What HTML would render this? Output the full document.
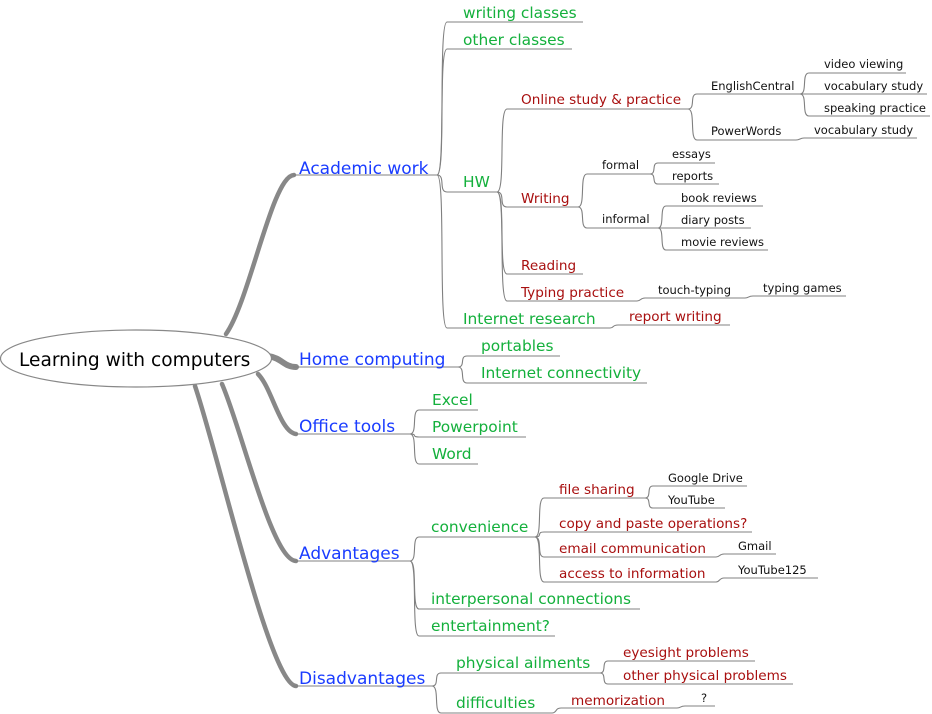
<!DOCTYPE html>
<html><head><meta charset="utf-8"><style>
html,body{margin:0;padding:0;background:#fff;width:932px;height:714px;overflow:hidden}
svg{display:block}
text{font-family:"DejaVu Sans","Liberation Sans",sans-serif}
.b{fill:#1a3cff;font-size:17px}
.g{fill:#14b03c;font-size:15.4px}
.r{fill:#a80f0f;font-size:13.6px}
.k{fill:#111;font-size:11.5px}
.l{fill:none;stroke:#808080;stroke-width:1.1}
.t{fill:none;stroke:#888;stroke-width:4.5;stroke-linecap:round}
</style></head><body>
<svg width="932" height="714" viewBox="0 0 932 714" xmlns="http://www.w3.org/2000/svg">
<path class="t" d="M226 334 C250 300 272 176 294 175"/>
<path class="t" d="M268 356 C282 358 284 367 296 367" style="stroke-width:6"/>
<path class="t" d="M258 374 C272 388 280 432 296 434"/>
<path class="t" d="M222 384 C242 430 272 560 296 561"/>
<path class="t" d="M195 386 C220 460 270 684 296 686"/>
<ellipse cx="136" cy="358.5" rx="135.5" ry="28.5" fill="#fff" stroke="#888" stroke-width="1.2"/>
<text x="19" y="366" style="font-size:18.6px;fill:#000">Learning with computers</text>

<path class="l" d="M293 175 L437 175"/>
<path class="l" d="M293 367 L458 367"/>
<path class="l" d="M293 434 L410 434"/>
<path class="l" d="M293 561 L410 561"/>
<path class="l" d="M293 686 L432 686"/>
<text class="b" x="299" y="174" >Academic work</text>
<text class="b" x="299" y="365">Home computing</text>
<text class="b" x="299" y="432">Office tools</text>
<text class="b" x="299" y="559">Advantages</text>
<text class="b" x="299" y="684">Disadvantages</text>

<path class="l" d="M437 175 C446 175 438 22 447 22 L583 22"/>
<path class="l" d="M437 175 C446 175 438 49 447 49 L572 49"/>
<path class="l" d="M437 175 C446 175 438 192 447 192 L497 192"/>
<path class="l" d="M437 175 C446 175 438 328 447 328 L610 328"/>
<text class="g" x="463" y="18">writing classes</text>
<text class="g" x="463" y="45">other classes</text>
<text class="g" x="463" y="187">HW</text>
<text class="g" x="463" y="324">Internet research</text>
<path class="l" d="M610 328 C614 328 612 325 618 325 L730 325"/>
<text class="r" x="629" y="321">report writing</text>

<path class="l" d="M497 192 C506 192 498 109 507 109 L688 109"/>
<path class="l" d="M497 192 C506 192 498 207 507 207 L578 207"/>
<path class="l" d="M497 192 C506 192 498 274 507 274 L583 274"/>
<path class="l" d="M497 192 C506 192 498 301 507 301 L637 301"/>
<text class="r" x="521" y="104">Online study &amp; practice</text>
<text class="r" x="521" y="203">Writing</text>
<text class="r" x="521" y="270">Reading</text>
<text class="r" x="521" y="297">Typing practice</text>

<path class="l" d="M688 109 C696 109 689 94 697 94 L800 94"/>
<path class="l" d="M688 109 C696 109 689 140 697 140 L796 140 C800 140 800 138 804 138 L917 138"/>
<text class="k" x="711" y="90">EnglishCentral</text>
<text class="k" x="711" y="135">PowerWords</text>
<text class="k" x="814" y="134">vocabulary study</text>
<path class="l" d="M800 94 C808 94 801 73 809 73 L906 73"/>
<path class="l" d="M800 94 L927 94"/>
<path class="l" d="M800 94 C808 94 801 116 809 116 L930 116"/>
<text class="k" x="824" y="68">video viewing</text>
<text class="k" x="824" y="90">vocabulary study</text>
<text class="k" x="824" y="112">speaking practice</text>

<path class="l" d="M578 207 C586 207 579 174 587 174 L650 174"/>
<path class="l" d="M578 207 C586 207 579 228 587 228 L658 228"/>
<text class="k" x="602" y="169">formal</text>
<text class="k" x="602" y="223">informal</text>
<path class="l" d="M650 174 C657 174 651 163 658 163 L715 163"/>
<path class="l" d="M650 174 C657 174 651 184 658 184 L719 184"/>
<text class="k" x="672" y="158">essays</text>
<text class="k" x="672" y="180">reports</text>
<path class="l" d="M658 228 C665 228 659 206 666 206 L763 206"/>
<path class="l" d="M658 228 L751 228"/>
<path class="l" d="M658 228 C665 228 659 250 666 250 L768 250"/>
<text class="k" x="681" y="202">book reviews</text>
<text class="k" x="681" y="224">diary posts</text>
<text class="k" x="681" y="246">movie reviews</text>

<path class="l" d="M637 301 C641 301 640 298 645 298 L745 298 C749 298 748 296 753 296 L846 296"/>
<text class="k" x="658" y="294">touch-typing</text>
<text class="k" x="763" y="292">typing games</text>

<path class="l" d="M458 367 C466 367 459 356 467 356 L560 356"/>
<path class="l" d="M458 367 C466 367 459 383 467 383 L647 383"/>
<text class="g" x="481" y="351">portables</text>
<text class="g" x="481" y="378">Internet connectivity</text>

<path class="l" d="M410 434 C418 434 411 410 419 410 L478 410"/>
<path class="l" d="M410 434 C418 434 411 437 419 437 L526 437"/>
<path class="l" d="M410 434 C418 434 411 464 419 464 L478 464"/>
<text class="g" x="432" y="405">Excel</text>
<text class="g" x="432" y="432">Powerpoint</text>
<text class="g" x="432" y="459">Word</text>

<path class="l" d="M410 561 C418 561 411 537 419 537 L535 537"/>
<path class="l" d="M410 561 C418 561 411 609 419 609 L640 609"/>
<path class="l" d="M410 561 C418 561 411 636 419 636 L555 636"/>
<text class="g" x="431" y="532">convenience</text>
<text class="g" x="431" y="604">interpersonal connections</text>
<text class="g" x="431" y="631">entertainment?</text>
<path class="l" d="M535 537 C543 537 536 498 544 498 L645 498"/>
<path class="l" d="M535 537 C543 537 536 532 544 532 L752 532"/>
<path class="l" d="M535 537 C543 537 536 557 544 557 L716 557"/>
<path class="l" d="M535 537 C543 537 536 582 544 582 L716 582"/>
<text class="r" x="559" y="494">file sharing</text>
<text class="r" x="559" y="528">copy and paste operations?</text>
<text class="r" x="559" y="553">email communication</text>
<text class="r" x="559" y="578">access to information</text>
<path class="l" d="M645 498 C652 498 646 486 653 486 L747 486"/>
<path class="l" d="M645 498 C652 498 646 508 653 508 L725 508"/>
<text class="k" x="668" y="482">Google Drive</text>
<text class="k" x="668" y="504">YouTube</text>
<path class="l" d="M716 557 C720 557 719 554 724 554 L776 554"/>
<path class="l" d="M716 582 C720 582 719 578 724 578 L818 578"/>
<text class="k" x="738" y="550">Gmail</text>
<text class="k" x="738" y="574">YouTube125</text>

<path class="l" d="M432 686 C440 686 433 673 441 673 L600 673"/>
<path class="l" d="M432 686 C440 686 433 713 441 713 L552 713"/>
<text class="g" x="456" y="668">physical ailments</text>
<text class="g" x="456" y="708">difficulties</text>
<path class="l" d="M600 673 C607 673 601 661 608 661 L755 661"/>
<path class="l" d="M600 673 C607 673 601 684 608 684 L793 684"/>
<text class="r" x="623" y="657">eyesight problems</text>
<text class="r" x="623" y="680">other physical problems</text>
<path class="l" d="M552 713 C557 713 555 708 561 708 L677 708 C681 708 680 706 685 706 L715 706"/>
<text class="r" x="571" y="705">memorization</text>
<text class="k" x="701" y="702">?</text>
</svg>
</body></html>
